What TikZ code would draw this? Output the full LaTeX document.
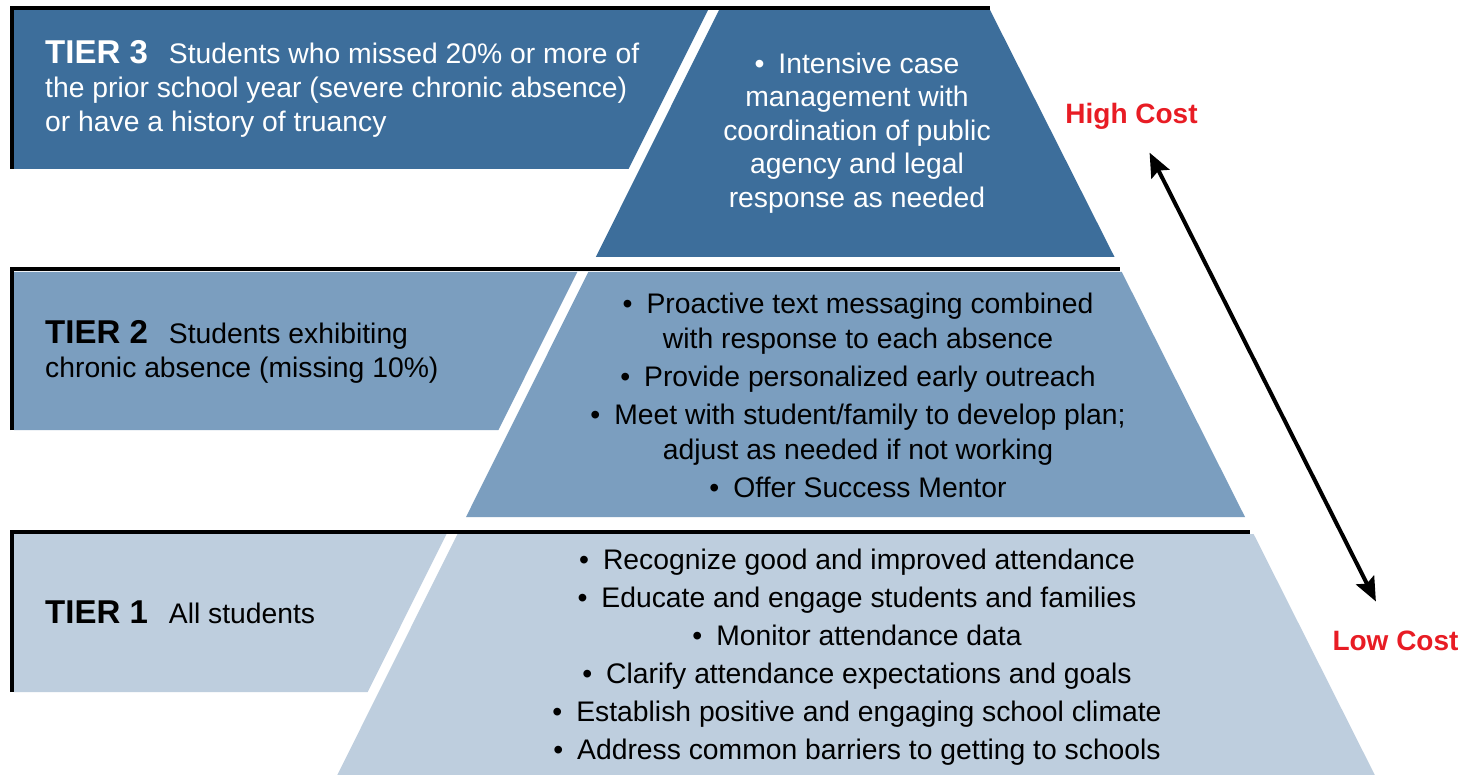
\documentclass[tikz,border=0pt]{standalone}
\usepackage{fontspec}
\setmainfont{Liberation Sans}
\usetikzlibrary{arrows.meta}
\definecolor{tierthree}{RGB}{61,110,155}
\definecolor{tiertwo}{RGB}{123,158,191}
\definecolor{tierone}{RGB}{190,206,222}
\definecolor{costred}{RGB}{232,28,36}
\newcommand\tbul{\textbullet\hspace{14pt}}
\newcommand\tiername[1]{{\fontsize{33}{34}\selectfont\bfseries #1}\hspace{21pt}}
\begin{document}
\begin{tikzpicture}[x=1pt,y=-1pt,
  edgeline/.style={line width=4pt, draw=black},
  leftlbl/.style={inner sep=0pt, anchor=north west, align=left, font=\fontsize{28.3}{34}\selectfont},
  righttxt/.style={inner sep=0pt, anchor=north, align=center},
  costlbl/.style={inner sep=2pt, anchor=base, text=costred, font=\fontsize{28}{34}\selectfont\bfseries},
  costarrow/.style={line width=4pt, {Stealth[length=24pt,width=20pt,inset=4pt]}-{Stealth[length=24pt,width=20pt,inset=4pt]}, shorten <=23pt, shorten >=30pt}
]
\useasboundingbox (0,0) rectangle (1466,775);
\fill[white] (0,0) rectangle (1466,775);

% Tier 3
\fill[tierthree] (14,10) -- (708,10) -- (628.5,169) -- (14,169) -- cycle;
\fill[tierthree] (719,10) -- (990,10) -- (1114.5,257) -- (595.8,257) -- cycle;
\draw[edgeline] (12,169) -- (12,8) -- (990,8);

% Tier 2
\fill[tiertwo] (14,272) -- (577.3,272) -- (498.4,430) -- (14,430) -- cycle;
\fill[tiertwo] (588.3,272) -- (1121.8,272) -- (1245,517) -- (466,517) -- cycle;
\draw[edgeline] (12,430) -- (12,269.5) -- (1120,269.5);

% Tier 1
\fill[tierone] (14,534) -- (446.5,534) -- (367.7,692) -- (14,692) -- cycle;
\fill[tierone] (457.5,534) -- (1253.6,534) -- (1374.8,775) -- (337.3,775) -- cycle;
\draw[edgeline] (12,692) -- (12,531.5) -- (1250,531.5);

% Left labels
\node[leftlbl, text=white] (t3lbl) at (45,39.2)
  {\strut\tiername{TIER 3}Students who missed 20\% or more of\\
   \strut the prior school year (severe chronic absence)\\
   \strut or have a history of truancy};
\node[leftlbl, text=black] (t2lbl) at (45,319.2)
  {\strut\tiername{TIER 2}Students exhibiting\\
   \strut chronic absence (missing 10\%)};
\node[leftlbl, text=black] (t1lbl) at (45,599.2)
  {\strut\tiername{TIER 1}All students};

% Right texts
\node[righttxt, text=white, font=\fontsize{28.3}{33.5}\selectfont] (t3txt) at (857,49.55)
  {\strut\tbul Intensive case\\
   \strut management with\\
   \strut coordination of public\\
   \strut agency and legal\\
   \strut response as needed};
\node[righttxt, text=black, font=\fontsize{28.3}{35}\selectfont] (t2txt) at (858,288.5)
  {\strut\tbul Proactive text messaging combined\\
   \strut with response to each absence\\[3pt]
   \strut\tbul Provide personalized early outreach\\[3pt]
   \strut\tbul Meet with student/family to develop plan;\\
   \strut adjust as needed if not working\\[3pt]
   \strut\tbul Offer Success Mentor};
\node[righttxt, text=black, font=\fontsize{28.3}{38}\selectfont] (t1txt) at (857,542.4)
  {\strut\tbul Recognize good and improved attendance\\
   \strut\tbul Educate and engage students and families\\
   \strut\tbul Monitor attendance data\\
   \strut\tbul Clarify attendance expectations and goals\\
   \strut\tbul Establish positive and engaging school climate\\
   \strut\tbul Address common barriers to getting to schools};

% Cost arrow
\node[costlbl] (high) at (1131.5,124) {High Cost};
\node[costlbl] (low) at (1395.5,650) {Low Cost};
\draw[costarrow] (high) -- (low);
\end{tikzpicture}
\end{document}
